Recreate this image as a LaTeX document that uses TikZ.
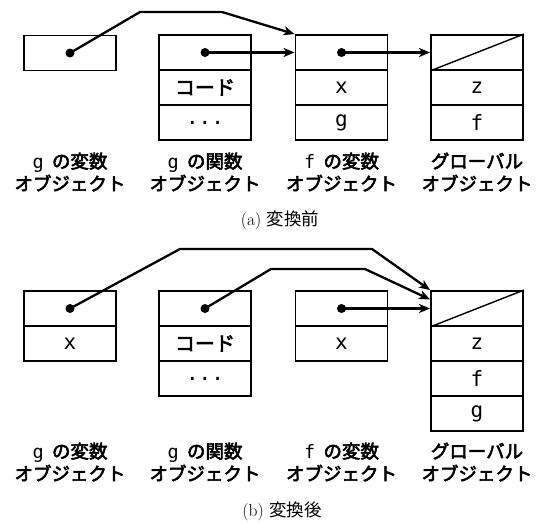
\documentclass[tikz,border=0pt]{standalone}
\usepackage{fontspec}
\newfontfamily\jp{Noto Sans CJK JP}
\newfontfamily\jpm[FakeBold=3]{Noto Sans CJK JP}
\newfontfamily\mono{DejaVu Sans Mono}
\usetikzlibrary{arrows.meta,calc}
\begin{document}
\begin{tikzpicture}[x=1pt,y=-1pt,
  cell/.style={draw,line width=1.9pt,minimum width=92pt,minimum height=35pt,inner sep=0pt,font=\mono\fontsize{21}{22}\selectfont},
  dotm/.style={circle,fill,inner sep=0pt,minimum size=9pt},
  ptr/.style={line width=2.3pt,line join=round,-{Stealth[length=11pt,width=9pt,inset=3pt]}},
  diag/.style={line width=1.4pt},
  lbl/.style={align=center,inner sep=0pt,font=\jpm\fontsize{18.5}{22.5}\selectfont},
  captxt/.style={inner sep=0pt,font=\fontsize{17.5}{19}\selectfont}]
\useasboundingbox (0,0) rectangle (540,523);
% ---------- (a) ----------
\node[cell] (a-gv) at (70,53) {};
\node[dotm] (a-gvd) at (a-gv.center) {};
\node[cell] (a-gf1) at (205,52.5) {};
\node[cell] (a-gf2) at (205,87.5) {\jpm\fontsize{20}{22}\selectfont コード};
\node[cell] (a-gf3) at (205,122.5) {...};
\node[dotm] (a-gfd) at (a-gf1.center) {};
\node[cell] (a-fv1) at (341.5,52.5) {};
\node[cell] (a-fv2) at (341.5,87.5) {x};
\node[cell] (a-fv3) at (341.5,122.5) {g};
\node[dotm] (a-fvd) at (a-fv1.center) {};
\node[cell] (a-gl1) at (477,52.5) {};
\node[cell] (a-gl2) at (477,87.5) {z};
\node[cell] (a-gl3) at (477,122.5) {f};
\draw[diag] (a-gl1.south west) -- (a-gl1.north east);
\coordinate (a-k1) at (140,12);
\coordinate (a-k2) at (222,12);
\draw[ptr] (a-gvd.center) -- (a-k1) -- (a-k2) -- (a-fv1.north west);
\draw[ptr] (a-gfd.center) -- (a-fv1.west);
\draw[ptr] (a-fvd.center) -- (a-gl1.west);
\node[lbl] (a-l1) at (70,172) {{\mono g}\hspace{0.45em}の変数\\オブジェクト};
\node[lbl] (a-l2) at (205,172) {{\mono g}\hspace{0.45em}の関数\\オブジェクト};
\node[lbl] (a-l3) at (341.5,172) {{\mono f}\hspace{0.45em}の変数\\オブジェクト};
\node[lbl] (a-l4) at (477,172) {グローバル\\オブジェクト};
\node[captxt] (a-cap) at (280,220) {(a) {\jp 変換前}};
% ---------- (b) ----------
\node[cell] (b-gv1) at (70,308.5) {};
\node[cell] (b-gv2) at (70,343.5) {x};
\node[dotm] (b-gvd) at (b-gv1.center) {};
\node[cell] (b-gf1) at (205,308.5) {};
\node[cell] (b-gf2) at (205,343.5) {\jpm\fontsize{20}{22}\selectfont コード};
\node[cell] (b-gf3) at (205,378.5) {...};
\node[dotm] (b-gfd) at (b-gf1.center) {};
\node[cell] (b-fv1) at (341.5,308.5) {};
\node[cell] (b-fv2) at (341.5,343.5) {x};
\node[dotm] (b-fvd) at (b-fv1.center) {};
\node[cell] (b-gl1) at (477,308.5) {};
\node[cell] (b-gl2) at (477,343.5) {z};
\node[cell] (b-gl3) at (477,378.5) {f};
\node[cell] (b-gl4) at (477,413.5) {g};
\draw[diag] (b-gl1.south west) -- (b-gl1.north east);
\coordinate (b-k1) at (180,249);
\coordinate (b-k2) at (372,249);
\coordinate (b-k3) at (271,269);
\coordinate (b-k4) at (365,269);
\draw[ptr] (b-gvd.center) -- (b-k1) -- (b-k2) -- (b-gl1.north west);
\draw[ptr] (b-gfd.center) -- (b-k3) -- (b-k4) -- ([yshift=9pt]b-gl1.west);
\draw[ptr] (b-fvd.center) -- (b-gl1.west);
\node[lbl] (b-l1) at (70,462) {{\mono g}\hspace{0.45em}の変数\\オブジェクト};
\node[lbl] (b-l2) at (205,462) {{\mono g}\hspace{0.45em}の関数\\オブジェクト};
\node[lbl] (b-l3) at (341.5,462) {{\mono f}\hspace{0.45em}の変数\\オブジェクト};
\node[lbl] (b-l4) at (477,462) {グローバル\\オブジェクト};
\node[captxt] (b-cap) at (282,511) {(b) {\jp 変換後}};
\end{tikzpicture}
\end{document}
